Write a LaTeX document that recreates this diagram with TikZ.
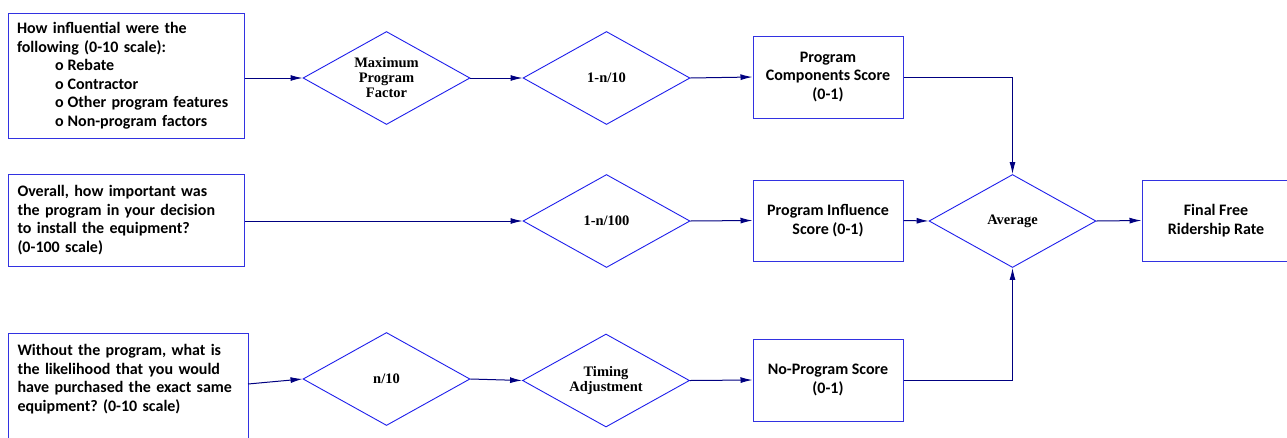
\documentclass[tikz,border=0pt]{standalone}
\usepackage{fontspec}
\setmainfont{Liberation Serif}
\newfontfamily\gillfont{Carlito}
\usetikzlibrary{shapes.geometric,arrows.meta}
\definecolor{boxblue}{RGB}{50,50,225}
\definecolor{diablue}{RGB}{30,30,235}
\definecolor{flownavy}{RGB}{0,0,128}
\newcommand{\bul}[1]{\hspace*{38pt}o\hspace{4pt}#1}
\frenchspacing
\tikzset{
  question/.style={draw=boxblue, line width=1pt, rectangle, inner xsep=9pt, inner ysep=0pt,
    text width=218pt, align=left, font=\gillfont\bfseries\fontsize{16}{18.5}\selectfont},
  score/.style={draw=boxblue, line width=1pt, rectangle, minimum width=150pt, minimum height=82pt,
    align=center, font=\gillfont\bfseries\fontsize{16}{18.5}\selectfont},
  calc/.style={draw=diablue, line width=0.9pt, diamond, aspect=1.8, inner sep=0pt,
    minimum width=167pt, minimum height=93pt, align=center,
    font=\bfseries\fontsize{14.5}{15}\selectfont},
  flow/.style={draw=flownavy, line width=1pt, -{Latex[length=12pt,width=6pt]}}
}
\begin{document}
\begin{tikzpicture}[x=1pt, y=-1pt]
	\useasboundingbox (0,0) rectangle (1287,437);
	\clip (0,0) rectangle (1287,437);
	% survey questions
	\node[question, minimum height=125pt] (q1) at (126,75.5)
		{How influential were the\\following (0-10 scale):\\\bul{Rebate}\\\bul{Contractor}\\\bul{Other program features}\\\bul{Non-program factors}};
	\node[question, minimum height=92pt] (q2) at (126.5,220)
		{Overall, how important was\\the program in your decision\\to install the equipment?\\(0-100 scale)};
	\node[draw=boxblue, line width=1pt, rectangle, minimum width=240pt, minimum height=140pt,
		anchor=north west] (q3) at (8,333) {};
	\node[question, draw=none, inner xsep=0pt, anchor=north west] (q3text) at (17,344)
		{Without the program, what is\\the likelihood that you would\\have purchased the exact same\\equipment? (0-10 scale)};
	\coordinate (q3out) at (248,384);
	% calculations
	\node[calc] (d1) at (386.5,78) {Maximum\\Program\\Factor};
	\node[calc] (d2) at (606.5,78) {1-n/10};
	\node[calc] (d3) at (606.5,221) {1-n/100};
	\node[calc] (d4) at (386.5,379) {n/10};
	\node[calc] (d5) at (606,380.5) {Timing\\Adjustment};
	\node[calc] (avg) at (1012.5,221) {Average};
	% scores
	\node[score] (c1) at (828,77) {Program\\Components Score\\(0-1)};
	\node[score, minimum height=81pt] (c2) at (828,220.5) {Program Influence\\Score (0-1)};
	\node[score] (c3) at (828,380) {No-Program Score\\(0-1)};
	\node[score, minimum width=148pt, minimum height=81pt] (fin) at (1216,220.5) {Final Free\\Ridership Rate};
	% connectors
	\draw[flow] (q1.east |- d1.west) -- (d1.west);
	\draw[flow] (d1.east) -- (d2.west);
	\draw[flow] (d2.east) -- (c1.west);
	\draw[flow] (c1.east) -| (avg.north);
	\draw[flow] (q2.east |- d3.west) -- (d3.west);
	\draw[flow] (d3.east) -- (c2.west);
	\draw[flow] (c2.east) -- (avg.west);
	\draw[flow] (avg.east) -- (fin.west);
	\draw[flow] (q3out) -- (d4.west);
	\draw[flow] (d4.east) -- (d5.west);
	\draw[flow] (d5.east) -- (c3.west);
	\draw[flow] (c3.east) -| (avg.south);
\end{tikzpicture}
\end{document}
